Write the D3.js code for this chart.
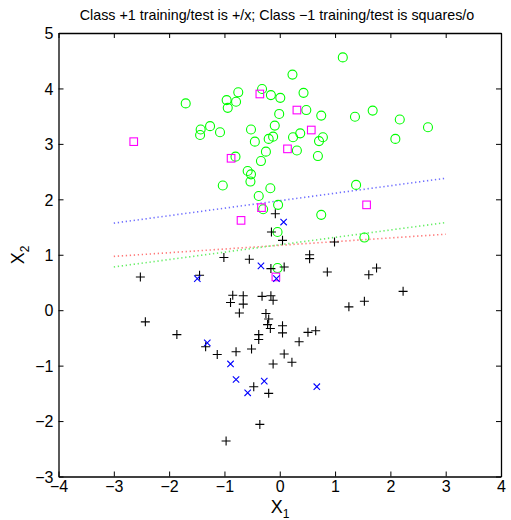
<!DOCTYPE html>
<html>
<head>
<meta charset="utf-8">
<script src="https://cdn.jsdelivr.net/npm/d3@7"></script>
<style>
  body { margin: 0; background: #fff; }
  text { font-family: "Liberation Sans", Arial, Helvetica, sans-serif; fill: #000; }
</style>
</head>
<body>
<svg id="chart" width="511" height="520"></svg>
<script>
// class +1 training (+)
const plusTrain = [
  [-0.08,1.74],[-0.15,1.41],[0.05,1.26],[0.99,1.23],[0.54,1.00],[0.54,0.93],[-1.01,0.95],[-0.55,0.92],
  [-0.16,0.75],[0.08,0.78],[0.86,0.69],[1.75,0.76],[1.61,0.64],[-2.52,0.60],[-1.45,0.63],[2.23,0.34],
  [1.25,0.06],[1.53,0.16],[-0.85,0.27],[-0.66,0.26],[-0.32,0.25],[-0.16,0.26],[-0.89,0.14],[-0.66,0.11],
  [-0.12,0.18],[-0.73,-0.05],[-0.25,-0.06],[-0.20,-0.16],[-2.43,-0.21],[-0.22,-0.26],[-0.17,-0.33],[0.05,-0.28],
  [0.05,-0.41],[0.51,-0.40],[0.65,-0.37],[-1.86,-0.44],[-0.38,-0.44],[-0.38,-0.53],[0.35,-0.57],[-1.34,-0.66],
  [-1.13,-0.80],[-0.79,-0.75],[-0.51,-0.70],[0.08,-0.79],[-0.12,-0.97],[0.22,-0.94],[-0.47,-1.38],[-0.20,-1.50],
  [-0.36,-2.06],[-0.97,-2.36]
]
// class +1 test (x)
const plusTest = [
  [0.07,1.59],[-0.34,0.80],[-0.06,0.57],[-1.49,0.57],[-1.31,-0.59],[-0.89,-0.97],[-0.79,-1.25],
  [-0.28,-1.28],[-0.58,-1.49],[0.67,-1.38]
]
// class -1 training (squares)
const minusTrain = [
  [-0.36,3.90],[0.31,3.61],[0.57,3.25],[0.14,2.91],[-2.64,3.04],[-0.88,2.74],[-0.33,1.85],
  [-0.70,1.62],[1.57,1.90],[-0.07,0.60]
]
// class -1 test (o)
const minusTest = [
  [0.23,4.25],[1.14,4.56],[-0.32,3.99],[-0.75,3.93],[-0.16,3.88],[0.01,3.83],[0.43,3.92],[-1.70,3.73],
  [-0.96,3.79],[-0.79,3.76],[-0.94,3.65],[-0.01,3.54],[0.48,3.61],[0.75,3.51],[1.36,3.49],[1.68,3.60],
  [2.17,3.44],[2.68,3.30],[2.09,3.09],[-0.09,3.33],[-1.26,3.32],[-1.43,3.26],[-1.44,3.16],[-1.08,3.21],
  [-0.52,3.26],[-0.12,3.13],[-0.20,3.09],[-0.45,3.04],[0.24,3.12],[0.37,3.19],[0.78,3.12],[0.71,3.05],
  [0.31,2.88],[-0.25,2.86],[-0.34,2.69],[0.69,2.78],[-0.80,2.77],[-0.58,2.51],[-0.52,2.45],[-0.53,2.32],
  [-1.03,2.25],[-0.17,2.20],[-0.38,2.06],[-0.30,1.82],[-0.03,1.90],[1.38,2.26],[0.75,1.72],[-0.04,1.41],
  [1.53,1.31],[-0.04,0.76]
]
// decision boundaries (dotted)
const boundaryBlue = [[-3,1.57],[3,2.38]]
const boundaryRed = [[-3,0.97],[3,1.37]]
const boundaryGreen = [[-3,0.78],[3,1.58]]
const xTicks = [-4,-3,-2,-1,0,1,2,3,4]
const yTicks = [-3,-2,-1,0,1,2,3,4,5]

const svg = d3.select('#chart')
const plotLeft = 58.5, plotRight = 501, plotTop = 33, plotBottom = 476.5

const x = d3.scaleLinear().domain([-4,4]).range([plotLeft,plotRight])
const y = d3.scaleLinear().domain([-3,5]).range([plotBottom,plotTop])
const fmt = v => v < 0 ? '\u2212' + Math.abs(v) : '' + v

// boundary lines
const line = d3.line().x(d=>x(d[0])).y(d=>y(d[1]))
;[[boundaryBlue,'#6f6fff'],[boundaryRed,'#ff7777'],[boundaryGreen,'#66ee66']].forEach(([pts,c])=>{
  svg.append('path').attr('d', line(pts)).attr('fill','none')
    .attr('stroke', c).attr('stroke-width', 1.6).attr('stroke-dasharray','1.3,2.7')
})

// class -1 test: circles
svg.append('g').selectAll('circle').data(minusTest).join('circle')
  .attr('cx', d=>x(d[0])).attr('cy', d=>y(d[1])).attr('r', 4.5)
  .attr('fill','none').attr('stroke','#00ff00').attr('stroke-width',1.1)

// class -1 training: squares
svg.append('g').selectAll('rect').data(minusTrain).join('rect')
  .attr('x', d=>x(d[0])-3.8).attr('y', d=>y(d[1])-3.8).attr('width',7.6).attr('height',7.6)
  .attr('fill','none').attr('stroke','#ff00ff').attr('stroke-width',1.1)

// class +1 training: plus
svg.append('g').selectAll('path').data(plusTrain).join('path')
  .attr('d', d=>{ const cx=x(d[0]), cy=y(d[1]), s=4.5
    return `M${cx-s},${cy}H${cx+s}M${cx},${cy-s}V${cy+s}` })
  .attr('stroke','#000').attr('stroke-width',1.1).attr('fill','none')

// class +1 test: x
svg.append('g').selectAll('path').data(plusTest).join('path')
  .attr('d', d=>{ const cx=x(d[0]), cy=y(d[1]), s=3.2
    return `M${cx-s},${cy-s}L${cx+s},${cy+s}M${cx-s},${cy+s}L${cx+s},${cy-s}` })
  .attr('stroke','#0000ff').attr('stroke-width',1.1).attr('fill','none')

// axes box with inward ticks
const axB = svg.append('g').attr('transform',`translate(0,${plotBottom})`)
  .call(d3.axisBottom(x).tickValues(xTicks).tickSizeInner(-5).tickSizeOuter(0).tickPadding(4).tickFormat(fmt))
const axT = svg.append('g').attr('transform',`translate(0,${plotTop})`)
  .call(d3.axisTop(x).tickValues(xTicks).tickSizeInner(-5).tickSizeOuter(0).tickFormat(''))
const axL = svg.append('g').attr('transform',`translate(${plotLeft},0)`)
  .call(d3.axisLeft(y).tickValues(yTicks).tickSizeInner(-5).tickSizeOuter(0).tickPadding(5).tickFormat(fmt))
const axR = svg.append('g').attr('transform',`translate(${plotRight},0)`)
  .call(d3.axisRight(y).tickValues(yTicks).tickSizeInner(-5).tickSizeOuter(0).tickFormat(''))
;[axB,axT,axL,axR].forEach(a=>{
  a.select('.domain').attr('stroke','#000').attr('stroke-width',1.3)
  a.selectAll('.tick line').attr('stroke','#000').attr('stroke-width',1)
  a.selectAll('text').style('font-size','16px').style('font-family','"Liberation Sans", Arial, sans-serif').attr('fill','#000')
})
axB.selectAll('text').attr('dy','0.72em')
axL.selectAll('text').attr('dy','0.36em')

// title
svg.append('text').attr('x', 277).attr('y', 20).attr('text-anchor','middle')
  .style('font-size','14.3px').text('Class +1 training/test is +/x; Class \u22121 training/test is squares/o')

// axis labels
const xl = svg.append('text').attr('x', 280).attr('y', 513).attr('text-anchor','middle').style('font-size','18px')
xl.append('tspan').text('X')
xl.append('tspan').attr('dy', 5).style('font-size','12px').text('1')

const yl = svg.append('text').attr('transform','translate(24,255) rotate(-90)').attr('text-anchor','middle').style('font-size','18px')
yl.append('tspan').text('X')
yl.append('tspan').attr('dy', 5).style('font-size','12px').text('2')
</script>
</body>
</html>
